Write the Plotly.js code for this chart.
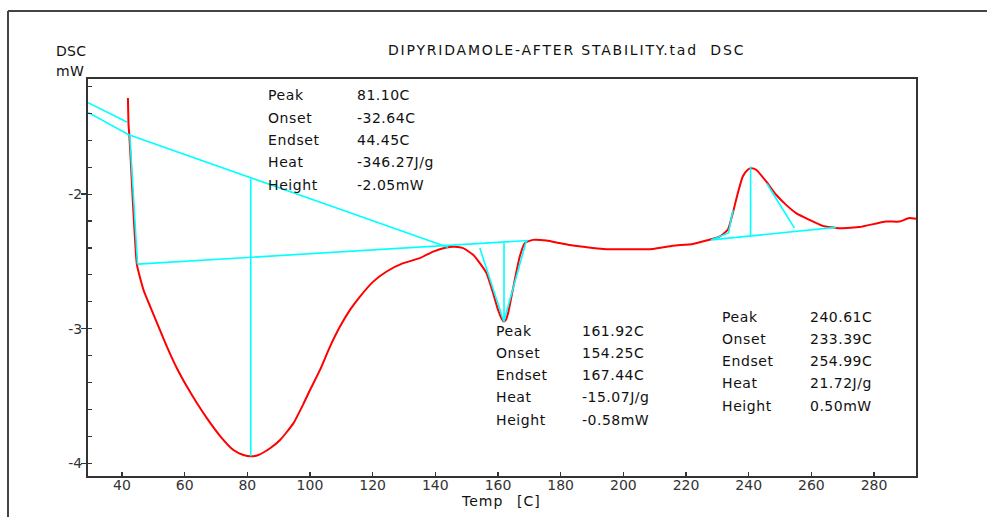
<!DOCTYPE html>
<html>
<head>
<meta charset="utf-8">
<script src="https://cdn.plot.ly/plotly-3.0.1.min.js"></script>
<style>
  html, body { margin: 0; padding: 0; background: #fff; }
  #chart { width: 987px; height: 517px; }
</style>
</head>
<body>
<div id="chart"></div>
<script>
// ---- DSC curve (Temp in C, DSC in mW) ----
const temp = [41.91, 42.10, 42.33, 42.80, 43.44, 44.08, 44.78, 46.88, 49.02, 51.67, 54.34, 57.53, 60.72, 63.90, 67.09, 71.33, 75.57, 78.76, 81.12, 83.54, 87.27, 90.45, 94.69, 97.88, 100.02, 103.20, 106.39, 109.58, 112.77, 115.95, 120.19, 124.46, 129.75, 135.07, 139.32, 143.59, 146.23, 148.88, 152.06, 154.20, 156.33, 158.44, 160.03, 161.21, 161.85, 162.49, 163.22, 164.30, 165.36, 166.95, 168.54, 171.19, 175.46, 179.70, 183.94, 188.21, 193.50, 202.01, 209.44, 215.81, 222.19, 226.45, 230.69, 233.34, 234.93, 236.53, 238.12, 239.71, 240.73, 242.39, 245.58, 248.76, 251.95, 255.14, 259.38, 263.62, 268.93, 275.31, 283.82, 288.06, 291.25, 293.38];
const dsc = [-1.286, -1.485, -1.559, -1.745, -2.042, -2.303, -2.526, -2.712, -2.836, -2.984, -3.133, -3.294, -3.430, -3.552, -3.664, -3.797, -3.901, -3.938, -3.948, -3.938, -3.888, -3.827, -3.703, -3.560, -3.455, -3.306, -3.133, -2.984, -2.860, -2.761, -2.650, -2.575, -2.513, -2.476, -2.427, -2.396, -2.392, -2.401, -2.451, -2.513, -2.587, -2.736, -2.860, -2.927, -2.947, -2.935, -2.885, -2.761, -2.637, -2.464, -2.364, -2.340, -2.345, -2.364, -2.382, -2.394, -2.407, -2.410, -2.407, -2.384, -2.370, -2.345, -2.315, -2.265, -2.141, -1.993, -1.869, -1.819, -1.808, -1.819, -1.906, -2.005, -2.080, -2.141, -2.191, -2.236, -2.253, -2.245, -2.204, -2.204, -2.178, -2.184];

// ---- analysis lines (cyan) ----
const upperLineT = [29.16, 41.59],  upperLineV = [-1.321, -1.465];
const tangentT = [29.16, 42.17, 144.0], tangentV = [-1.393, -1.559, -2.394];
const leadEdgeT = [42.49, 44.97], leadEdgeV = [-1.559, -2.520];
const baselineT = [44.97, 169.6], baselineV = [-2.520, -2.345];
const peak1T = [81.10, 81.10], peak1V = [-1.886, -3.948];
const peak2LeftT = [154.20, 161.85], peak2LeftV = [-2.401, -2.947];
const peak2RightT = [161.85, 169.08], peak2RightV = [-2.947, -2.345];
const peak2T = [161.92, 161.92], peak2V = [-2.364, -2.947];
const base3T = [228.05, 267.89], base3V = [-2.340, -2.247];
const peak3LeftT = [228.05, 233.56, 235.0], peak3LeftV = [-2.340, -2.288, -2.117];
const peak3T = [240.61, 240.61], peak3V = [-1.795, -2.315];
const peak3RightT = [245.84, 254.6], peak3RightV = [-1.923, -2.253];

// ---- result text ----
const resultLabels = ['Peak', 'Onset', 'Endset', 'Heat', 'Height'];
const results1 = ['81.10C', '-32.64C', '44.45C', '-346.27J/g', '-2.05mW'];
const results2 = ['161.92C', '154.25C', '167.44C', '-15.07J/g', '-0.58mW'];
const results3 = ['240.61C', '233.39C', '254.99C', '21.72J/g', '0.50mW'];

const xTicks = [40, 60, 80, 100, 120, 140, 160, 180, 200, 220, 240, 260, 280];
const yTicks = [-4, -3, -2];

// ---- layout geometry ----
const W = 987, H = 517;
const L = 88, R = 916, T = 79, B = 476;
const px = x => (x - L) / (R - L);
const py = y => (B - y) / (B - T);
const FONT = 'DejaVu Sans, Arial, sans-serif';
const sp = (s, ls) => '<span style="letter-spacing:' + ls + 'px">' + s + '</span>';

const traces = [{
  x: temp, y: dsc, type: 'scatter', mode: 'lines',
  line: { color: '#ff0000', width: 2, shape: 'spline', smoothing: 0.5 }, hoverinfo: 'skip'
}];
const cyanLines = [
  [upperLineT, upperLineV], [tangentT, tangentV], [leadEdgeT, leadEdgeV],
  [baselineT, baselineV], [peak1T, peak1V], [peak2LeftT, peak2LeftV],
  [peak2RightT, peak2RightV], [peak2T, peak2V], [base3T, base3V],
  [peak3LeftT, peak3LeftV], [peak3T, peak3V], [peak3RightT, peak3RightV]
];
cyanLines.forEach(([xs, ys]) => traces.push({
  x: xs, y: ys, type: 'scatter', mode: 'lines',
  line: { color: '#00ffff', width: 1.6 }, hoverinfo: 'skip'
}));

const annotations = [];
function addText(text, x, y, anchor, ls) {
  annotations.push({ text: sp(text, ls), xref: 'paper', yref: 'paper', x: px(x), y: py(y),
    xanchor: anchor, yanchor: 'middle', showarrow: false, font: { family: FONT, size: 14, color: '#111' } });
}
function block(values, lx, vx, y0) {
  resultLabels.forEach((lab, i) => {
    const yy = y0 + i * 22.3;
    addText(lab, lx, yy, 'left', 0.6);
    addText(values[i], vx, yy, 'left', 0.5);
  });
}
block(results1, 266, 355, 95.5);
block(results2, 494, 580, 330.5);
block(results3, 720, 808, 316.5);

addText('DSC', 54, 51, 'left', 0.3);
addText('mW', 54, 71, 'left', 0.3);
addText('Temp', 459, 501, 'left', 1);
addText('[C]', 515, 501, 'left', 1);
addText('DIPYRIDAMOLE-AFTER STABILITY.tad\u00a0\u00a0DSC', 386, 50, 'left', 1.8);

const layout = {
  width: W, height: H,
  margin: { l: L, r: W - R, t: T, b: H - B, pad: 0 },
  paper_bgcolor: '#fff', plot_bgcolor: '#fff',
  showlegend: false,
  xaxis: {
    range: [29.16, 293.4], tickvals: xTicks, ticktext: xTicks.map(String),
    ticks: 'inside', ticklen: 4, tickwidth: 1.5, tickcolor: '#333',
    ticklabelstandoff: -5,
    showline: true, mirror: true, linecolor: '#333', linewidth: 2,
    showgrid: false, zeroline: false,
    tickfont: { family: FONT, size: 14, color: '#333' }
  },
  yaxis: {
    range: [-4.094, -1.145], tickvals: yTicks, ticktext: yTicks.map(String),
    ticks: 'outside', ticklen: 5, tickwidth: 1.5, tickcolor: '#333',
    ticklabelstandoff: -4,
    minor: { dtick: 0.2, tick0: -4, ticks: 'inside', ticklen: 4, tickwidth: 1.2, tickcolor: '#333', showgrid: false },
    showline: true, mirror: true, linecolor: '#333', linewidth: 2,
    showgrid: false, zeroline: false,
    tickfont: { family: FONT, size: 14, color: '#333' }
  },
  annotations: annotations,
  shapes: [
    { type: 'line', xref: 'paper', yref: 'paper', x0: px(8), x1: px(990), y0: py(11), y1: py(11), line: { color: '#444', width: 2 } },
    { type: 'line', xref: 'paper', yref: 'paper', x0: px(8), x1: px(8), y0: py(11), y1: py(520), line: { color: '#444', width: 2 } }
  ]
};

Plotly.newPlot('chart', traces, layout, { staticPlot: true, displayModeBar: false });
</script>
</body>
</html>
